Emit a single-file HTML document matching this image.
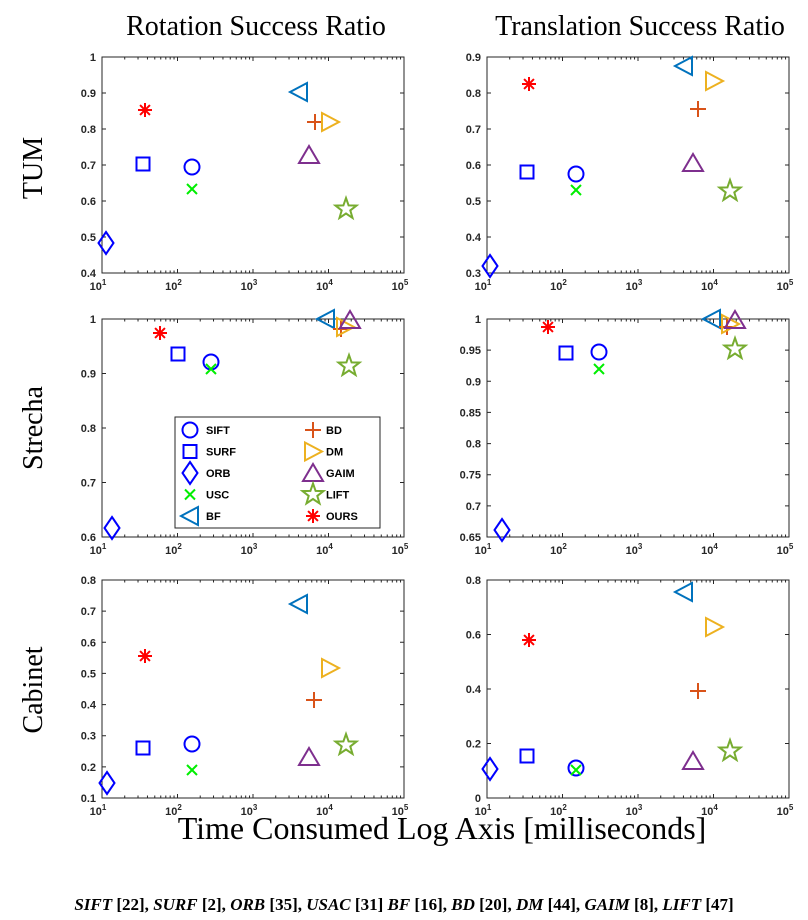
<!DOCTYPE html><html><head><style>body{margin:0;background:#fff}svg{display:block}</style></head><body>
<svg id="s" width="808" height="920" xmlns="http://www.w3.org/2000/svg" font-family="Liberation Sans, sans-serif">
<g font-family="Liberation Serif, serif" fill="#000">
<text x="256" y="35" font-size="28" text-anchor="middle">Rotation Success Ratio</text>
<text x="640" y="35" font-size="28" text-anchor="middle">Translation Success Ratio</text>
<text transform="translate(42,168) rotate(-90)" font-size="28" text-anchor="middle">TUM</text>
<text transform="translate(42,428) rotate(-90)" font-size="28" text-anchor="middle">Strecha</text>
<text transform="translate(42,690) rotate(-90)" font-size="28" text-anchor="middle">Cabinet</text>
<text x="442" y="839" font-size="32" text-anchor="middle">Time Consumed Log Axis [milliseconds]</text>
<text x="404" y="910" font-size="17" font-weight="bold" text-anchor="middle"><tspan font-style="italic">SIFT</tspan> [22], <tspan font-style="italic">SURF</tspan> [2], <tspan font-style="italic">ORB</tspan> [35], <tspan font-style="italic">USAC</tspan> [31] <tspan font-style="italic">BF</tspan> [16], <tspan font-style="italic">BD</tspan> [20], <tspan font-style="italic">DM</tspan> [44], <tspan font-style="italic">GAIM</tspan> [8], <tspan font-style="italic">LIFT</tspan> [47]</text>
</g>
</svg>
<script>
const s=document.getElementById('s');let h='';
const C={sift:'#0000ff',surf:'#0000ff',orb:'#0000ff',usc:'#00ee00',bf:'#0072bd',bd:'#d95319',dm:'#edb120',gaim:'#7e2f8e',lift:'#77ac30',ours:'#ff0000'};
function mk(t,x,y){const c=C[t];const st=`fill="none" stroke="${c}" stroke-width="2"`;
switch(t){
case 'sift':return `<circle cx="${x}" cy="${y}" r="7.5" ${st}/>`;
case 'surf':return `<rect x="${x-6.5}" y="${y-6.5}" width="13" height="13" ${st}/>`;
case 'orb':return `<path d="M${x} ${y-11}L${x+7.5} ${y}L${x} ${y+11}L${x-7.5} ${y}Z" ${st}/>`;
case 'usc':return `<path d="M${x-5} ${y-5}L${x+5} ${y+5}M${x+5} ${y-5}L${x-5} ${y+5}" ${st}/>`;
case 'bf':return `<path d="M${x-9} ${y}L${x+8} ${y-9}L${x+8} ${y+9}Z" ${st}/>`;
case 'dm':return `<path d="M${x+9} ${y}L${x-8} ${y-9}L${x-8} ${y+9}Z" ${st}/>`;
case 'gaim':return `<path d="M${x} ${y-9}L${x+10} ${y+8}L${x-10} ${y+8}Z" ${st}/>`;
case 'bd':return `<path d="M${x-8} ${y}L${x+8} ${y}M${x} ${y-8}L${x} ${y+8}" ${st}/>`;
case 'lift':{let p=[];for(let i=0;i<10;i++){const r=i%2?4.5:11,a=-Math.PI/2+i*Math.PI/5;p.push((x+r*Math.cos(a)).toFixed(1)+' '+(y+r*Math.sin(a)).toFixed(1));}return `<path d="M${p.join('L')}Z" ${st}/>`;}
case 'ours':{let d='';for(let i=0;i<4;i++){const a=i*Math.PI/4;d+=`M${x-7*Math.cos(a)} ${y-7*Math.sin(a)}L${x+7*Math.cos(a)} ${y+7*Math.sin(a)}`;}return `<path d="${d}" stroke="${c}" stroke-width="2"/>`;}
}}
const P=[
[102,404,57,273,0.4,1,[0.4,0.5,0.6,0.7,0.8,0.9,1],{orb:[106,243],ours:[145,110],surf:[143,164],sift:[192,167],usc:[192,189],bf:[299,92],bd:[315,122],dm:[330,122],gaim:[309,155],lift:[346,209]}],
[487,789,57,273,0.3,0.9,[0.3,0.4,0.5,0.6,0.7,0.8,0.9],{orb:[490,266],ours:[529,84],surf:[527,172],sift:[576,174],usc:[576,190],bf:[684,66],bd:[698,109],dm:[714,81],gaim:[693,163],lift:[730,191]}],
[102,404,319,537,0.6,1,[0.6,0.7,0.8,0.9,1],{orb:[112,528],ours:[160,333],surf:[178,354],sift:[211,362],usc:[211,369],bf:[326,319],bd:[341,329],dm:[345,327],gaim:[350,320],lift:[349,366]}],
[487,789,319,537,0.65,1,[0.65,0.7,0.75,0.8,0.85,0.9,0.95,1],{orb:[502,530],ours:[548,327],surf:[566,353],sift:[599,352],usc:[599,369],bf:[712,319],bd:[727,327],dm:[730,324],gaim:[735,320],lift:[735,349]}],
[102,404,580,798,0.1,0.8,[0.1,0.2,0.3,0.4,0.5,0.6,0.7,0.8],{orb:[107,783],ours:[145,656],surf:[143,748],sift:[192,744],usc:[192,770],bf:[299,604],bd:[314,700],dm:[330,668],gaim:[309,757],lift:[346,745]}],
[487,789,580,798,0,0.8,[0,0.2,0.4,0.6,0.8],{orb:[490,769],ours:[529,640],surf:[527,756],sift:[576,768],usc:[576,770],bf:[684,592],bd:[698,691],dm:[714,627],gaim:[693,761],lift:[730,751]}]];
for(const [x0,x1,y0,y1,a,b,ticks,pts] of P){
 h+=`<rect x="${x0}" y="${y0}" width="${x1-x0}" height="${y1-y0}" fill="none" stroke="#262626" stroke-width="1"/>`;
 const dw=(x1-x0)/4;
 for(let d=0;d<4;d++)for(let m=1;m<=10;m++){if(d==3&&m==10)continue;const xx=x0+dw*(d+Math.log10(m));const L=m==1?4:2.5;
  h+=`<path d="M${xx} ${y1}v${-L}M${xx} ${y0}v${L}" stroke="#262626"/>`;}
 for(let d=0;d<=4;d++){h+=`<text x="${x0+dw*d-4}" y="${y1+17}" font-size="11" font-weight="bold" text-anchor="middle" fill="#262626">10<tspan font-size="8" dy="-5">${d+1}</tspan></text>`;}
 for(const t of ticks){const yy=y1-(t-a)/(b-a)*(y1-y0);
  h+=`<path d="M${x0} ${yy}h4M${x1} ${yy}h-4" stroke="#262626"/><text x="${x0-6}" y="${yy+4}" font-size="11" font-weight="bold" text-anchor="end" fill="#262626">${t}</text>`;}
 for(const k in pts)h+=mk(k,pts[k][0],pts[k][1]);
}
h+=`<rect x="175" y="417" width="205" height="111" fill="#fff" stroke="#262626"/>`;
const L=[['sift','SIFT'],['surf','SURF'],['orb','ORB'],['usc','USC'],['bf','BF']],R=[['bd','BD'],['dm','DM'],['gaim','GAIM'],['lift','LIFT'],['ours','OURS']];
L.forEach((e,i)=>{const y=430+i*21.5;h+=mk(e[0],190,y)+`<text x="206" y="${y+4}" font-size="11" font-weight="bold">${e[1]}</text>`;});
R.forEach((e,i)=>{const y=430+i*21.5;h+=mk(e[0],313,y)+`<text x="326" y="${y+4}" font-size="11" font-weight="bold">${e[1]}</text>`;});
s.insertAdjacentHTML('beforeend',h);
</script></body></html>
